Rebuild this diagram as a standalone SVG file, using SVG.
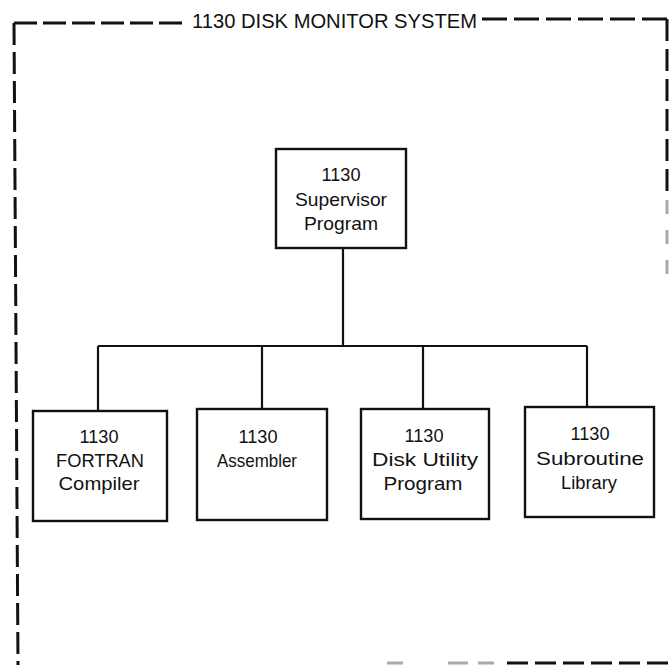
<svg xmlns="http://www.w3.org/2000/svg" width="669" height="665" viewBox="0 0 669 665">
<style>
.box{fill:#fff;stroke:#111;stroke-width:2.4}
.t{font-family:"Liberation Sans","DejaVu Sans",sans-serif;font-size:19px;fill:#111;text-anchor:middle}
.title{font-family:"Liberation Sans","DejaVu Sans",sans-serif;font-size:20px;fill:#111}
.bd{stroke:#111;stroke-width:3;fill:none}
.bdg{stroke:#aaa;stroke-width:3;fill:none}
.c{stroke:#111;stroke-width:2.2;fill:none}
</style>
<rect width="669" height="665" fill="#fff"/>
<g id="border">
<path class="bd" d="M14 23 H186" stroke-dasharray="23 6"/>
<path class="bd" d="M14 23 L18 665" stroke-dasharray="22 7"/>
<path class="bd" d="M482 19 H667" stroke-dasharray="25 7"/>
<path class="bd" d="M667 19 V195" stroke-dasharray="22 8"/>
<path class="bdg" d="M667 200 V280" stroke-dasharray="14 16"/>
<path class="bdg" d="M387 663 H495" stroke-dasharray="16 45 20 10"/>
<path class="bd" d="M507 663 H669" stroke-dasharray="21 7"/>
<text class="title" x="192" y="28" textLength="285" lengthAdjust="spacingAndGlyphs">1130 DISK MONITOR SYSTEM</text>
</g>
<g id="connectors">
<path class="c" d="M343 248 V346"/>
<path class="c" d="M98 346 H587"/>
<path class="c" d="M98 346 V411"/>
<path class="c" d="M262 346 V409"/>
<path class="c" d="M423 346 V409"/>
<path class="c" d="M587 346 V407"/>
</g>
<g id="supervisor">
<rect class="box" x="276" y="149" width="130" height="99"/>
<text class="t" x="341" y="181" textLength="39" lengthAdjust="spacingAndGlyphs">1130</text>
<text class="t" x="341" y="206" textLength="92" lengthAdjust="spacingAndGlyphs">Supervisor</text>
<text class="t" x="341" y="230" textLength="74" lengthAdjust="spacingAndGlyphs">Program</text>
</g>
<g id="fortran">
<rect class="box" x="33" y="411" width="134" height="110"/>
<text class="t" x="99" y="443" textLength="39" lengthAdjust="spacingAndGlyphs">1130</text>
<text class="t" x="100" y="467" textLength="88" lengthAdjust="spacingAndGlyphs">FORTRAN</text>
<text class="t" x="99" y="490" textLength="81" lengthAdjust="spacingAndGlyphs">Compiler</text>
</g>
<g id="assembler">
<rect class="box" x="197" y="409" width="130" height="111"/>
<text class="t" x="258" y="443" textLength="39" lengthAdjust="spacingAndGlyphs">1130</text>
<text class="t" x="257" y="467" textLength="80" lengthAdjust="spacingAndGlyphs">Assembler</text>
</g>
<g id="diskutility">
<rect class="box" x="361" y="409" width="128" height="110"/>
<text class="t" x="424" y="442" textLength="39" lengthAdjust="spacingAndGlyphs">1130</text>
<text class="t" x="425" y="466" textLength="106" lengthAdjust="spacingAndGlyphs">Disk Utility</text>
<text class="t" x="423" y="490" textLength="79" lengthAdjust="spacingAndGlyphs">Program</text>
</g>
<g id="subroutine">
<rect class="box" x="525" y="407" width="129" height="110"/>
<text class="t" x="590" y="440" textLength="39" lengthAdjust="spacingAndGlyphs">1130</text>
<text class="t" x="590" y="465" textLength="108" lengthAdjust="spacingAndGlyphs">Subroutine</text>
<text class="t" x="589" y="489" textLength="56" lengthAdjust="spacingAndGlyphs">Library</text>
</g>
</svg>
